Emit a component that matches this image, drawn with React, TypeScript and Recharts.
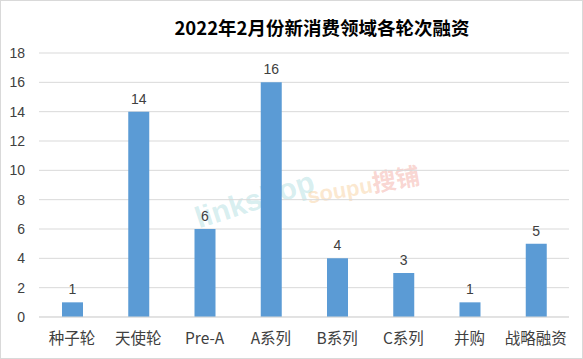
import React from 'react';
import { BarChart, Bar, XAxis, YAxis, CartesianGrid, LabelList } from 'recharts';

const categories = ['种子轮', '天使轮', 'Pre-A', 'A系列', 'B系列', 'C系列', '并购', '战略融资'];
const counts = [1, 14, 6, 16, 4, 3, 1, 5];
const yTicks = [0, 2, 4, 6, 8, 10, 12, 14, 16, 18];

const chartData = categories.map((name, i) => ({ name, value: counts[i] }));

const font = '"Liberation Sans", "Noto Sans CJK SC", sans-serif';

export default function App() {
  return (
    <div
      style={{
        position: 'fixed',
        top: 0,
        left: 0,
        width: 583,
        height: 359,
        background: '#fff',
        boxSizing: 'border-box',
        border: '1px solid #d9d9d9',
        fontFamily: font,
      }}
    >
      <div
        style={{
          position: 'absolute',
          top: 13,
          left: 0,
          width: 642,
          textAlign: 'center',
          fontSize: 18.5,
          fontWeight: 'bold',
          color: '#000',
          fontFamily: '"Noto Sans CJK SC", sans-serif',
          lineHeight: '26px',
        }}
      >
        2022年2月份新消费领域各轮次融资
      </div>
      {/* 水印 */}
      <div
        style={{
          position: 'absolute',
          left: 192,
          top: 182,
          transform: 'rotate(-18deg)',
          fontSize: 30,
          fontWeight: 'bold',
          color: 'rgba(120,200,205,0.3)',
          fontFamily: font,
        }}
      >
        linkshop
      </div>
      <div
        style={{
          position: 'absolute',
          left: 305,
          top: 165,
          transform: 'rotate(-10deg)',
          fontSize: 22,
          fontWeight: 'bold',
          color: 'rgba(245,190,120,0.35)',
          fontFamily: font,
        }}
      >
        soupu<span style={{ color: 'rgba(240,150,140,0.4)', fontSize: 24 }}>搜铺</span>
      </div>
      <BarChart
        width={581}
        height={357}
        data={chartData}
        margin={{ top: 52, right: 13, bottom: 0, left: 0 }}
        style={{ position: 'absolute', top: 0, left: 0, fontFamily: font }}
      >
        <CartesianGrid vertical={false} stroke="#d9d9d9" />
        <XAxis
          dataKey="name"
          height={41}
          axisLine={{ stroke: '#d9d9d9' }}
          tickLine={false}
          tickMargin={10}
          tick={{ fill: '#404040', fontSize: 15.5, fontFamily: '"Noto Sans CJK SC", sans-serif' }}
          interval={0}
        />
        <YAxis
          width={38}
          domain={[0, 18]}
          ticks={yTicks}
          axisLine={false}
          tickLine={false}
          tickMargin={8}
          tick={{ fill: '#404040', fontSize: 14 }}
        />
        <Bar dataKey="value" fill="#5b9bd5" barSize={21} isAnimationActive={false}>
          <LabelList dataKey="value" position="top" offset={8} fill="#404040" fontSize={14} />
        </Bar>
      </BarChart>
    </div>
  );
}
